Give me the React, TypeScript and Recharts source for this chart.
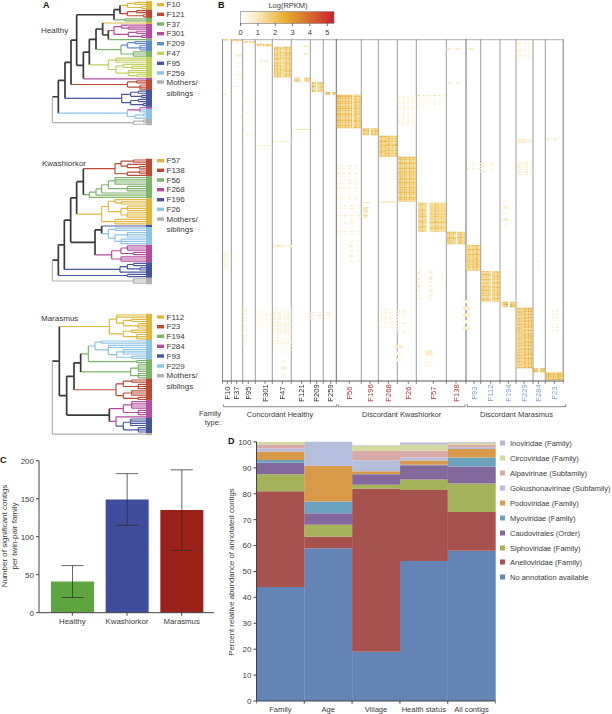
import React from "react";
import {
  BarChart, Bar, Cell, XAxis, YAxis, ErrorBar, LineChart, Line,
  ScatterChart, Scatter, ReferenceLine,
} from "recharts";

const FONT = "'Liberation Sans', Arial, sans-serif";
const INK = "#3a3a3a";

/* ---------- Panel C ---------- */
const groupNames = ["Healthy", "Kwashiorkor", "Marasmus"];
const groupMeans = [41, 149, 135];
const groupErrLow = [21, 34, 53];
const groupErrHigh = [21, 34, 53];
const groupColors = ["#5CA53F", "#3F4E9C", "#9A2118"];

/* ---------- Panel D ---------- */
const analysisNames = ["Family", "Age", "Village", "Health status", "All contigs"];
const noAnnotation = [44, 59, 19, 54, 58];
const anelloviridae = [37, 4.5, 63, 27.5, 15];
const siphoviridae = [6.5, 4.5, 1.5, 4, 11];
const caudovirales = [4.5, 4.5, 4, 5.5, 6.5];
const myoviridae = [1, 4.5, 0.1, 0.2, 3.5];
const podoviridae = [3.3, 13.7, 1.1, 1.6, 3.3];
const gokushonavirinae = [1.2, 9.3, 4.1, 1.2, 0.7];
const alpavirinae = [1.5, 0, 3.7, 2.7, 1];
const circoviridae = [1, 0, 2, 2.3, 0.7];
const inoviridae = [0, 0.1, 0.2, 0.8, 0.3];
const stackSeries: [string, number[], string][] = [
  ["No annotation available", noAnnotation, "#6484B6"],
  ["Anelloviridae (Family)", anelloviridae, "#A8524F"],
  ["Siphoviridae (Family)", siphoviridae, "#A4B35A"],
  ["Caudovirales (Order)", caudovirales, "#85689B"],
  ["Myoviridae (Family)", myoviridae, "#6BA3BF"],
  ["Podoviridae (Family)", podoviridae, "#D89A48"],
  ["Gokushonavirinae (Subfamily)", gokushonavirinae, "#B4BEDD"],
  ["Alpavirinae (Subfamily)", alpavirinae, "#D9A9A7"],
  ["Circoviridae (Family)", circoviridae, "#D2D99F"],
  ["Inoviridae (Family)", inoviridae, "#B9B4D2"],
];

/* ---------- Panel A ---------- */
const treeColors: Record<string, string> = {
  g: "#E0B73C", r: "#BE4A36", n: "#7DB468", m: "#B64C9E", b: "#5F8CC6",
  y: "#C2D05E", p: "#47559F", s: "#8EC3E8", a: "#B0B0B0", k: "#3A3A3A",
};
type Node = string | (string | number | Node)[];
const healthyTree: Node = [37, "a",
  [55, "k",
    [75, "k",
      [93, "k",
        [110, "k",
          [222, "k",
            [240, "k",
              [262, "g", [285, "g", "g", "g"], [305, "g", "g", "g"]],
              [262, "r", [290, "r", "r", "r"], [310, "r", "r", "r"]]],
            [255, "n", "n", "n"]],
          [130, "k",
            [148, "k",
              [168, "k",
                [188, "k", "g",
                  [205, "k",
                    [222, "m", [245, "m", "m", [265, "m", "m", "m"]], [265, "m", [290, "m", "m", "m"], [305, "m", "m", "m"]]],
                    "n"]],
                [243, "n",
                  [262, "b", [285, "b", "b", "b"], [300, "b", "b", "b", "b"]],
                  [280, "n", "n", "n", "n"]]],
              [205, "y", [228, "y", "y", "y", "y"],
                [228, "y", [250, "y", "y", [275, "y", "y", "y"]], [265, "y", "y", "y", [290, "y", "y", "y"]]]]],
            "m"]],
        [262, "r", [290, "r", "r", "r"], [300, "r", "r", "r", "r"]]],
      [245, "p", [272, "p", [295, "p", "p", "p"], [305, "p", "p", "p"]], [272, "p", [295, "p", "p", "p"], [310, "p", "p", "p"]]]],
    [262, "s", [300, "m", "m", "s", "s"], [285, "s", [310, "s", "s", "s"], [310, "s", "s"]]]],
  [280, "a", [310, "a", "a", "a"], [300, "a", "a"]],
];
const kwashTree: Node = [37, "a",
  [55, "k",
    [73, "k",
      [92, "k",
        [110, "k",
          [130, "k",
            [225, "r", [243, "r", [280, "r", "r", "r"], [262, "r", "r", [298, "r", "r", "r"]]], [262, "r", [298, "r", "r", "r"], "r"]],
            [148, "n", [168, "n", [185, "n", [205, "n", [225, "n", "n", "n", "n", "n"], [262, "n", "n", "n", "n"]], "n"], "n"], "n"]],
          [185, "g",
            [205, "g", [225, "g", "g", [243, "g", "g", "g"]], [243, "g", [262, "g", "g", "g", "g"], [262, "g", "g", "g", "g"]]],
            [225, "g", "g", "g", "g"]]],
        [165, "k",
          [185, "k", "p",
            [205, "s", [225, "s", "s", "s"], [225, "s", [262, "s", "s", "s", "s"], [243, "s", "s", "s", "s"]]]],
          [215, "m", [243, "m", [262, "m", "m", "m", "m"], [280, "m", "m", "m"]], [243, "m", "m", "m", "m"]]]],
      [240, "p", [262, "p", [280, "p", "p", "p"], [300, "p", "p", "p"]], "p"]],
    [262, "p", "p", "p"]],
  [280, "a", "a", "a", "a"],
];
const marasmusTree: Node = [37, "a",
  [58, "k",
    [208, "g",
      [230, "g", "g", "g", [250, "g", [275, "g", "g", "g"], [295, "g", "g", "g", "g"]]],
      [250, "g", [275, "g", "g", "g"], [290, "g", "g", "g", "g"]]],
    [80, "k",
      [102, "k",
        [122, "k",
          [145, "n",
            [165, "s", [185, "s", "s", "s"], [205, "s", "s", "s", [230, "s", [250, "s", "s", "s", "s"], [275, "s", "s", "s"]]]],
            [290, "n", "n", "n"]],
          [272, "n", [295, "n", "n", "n", "n", "n"], [295, "n", "n", "n", "n"]]],
        [228, "r", [250, "r", [275, "r", "r", "r"], [295, "r", "r", "r", "r"]], [250, "r", [275, "r", "r", "r", "r"], [295, "r", "r", "r"]]]],
      [208, "k",
        [250, "m", [275, "m", "m", "m", "m", "m"], [295, "m", "m", "m", "m"]],
        [228, "m", "m", [250, "p", [272, "p", "p", "p", "p", "p"], [295, "p", "p", "p", "p"]]]]]],
  "a",
];
const legendHealthy: [string, string][] = [["F10", "g"], ["F121", "r"], ["F37", "n"], ["F301", "m"], ["F209", "b"], ["F47", "y"], ["F95", "p"], ["F259", "s"], ["Mothers/", "a"]];
const legendKwash: [string, string][] = [["F57", "g"], ["F138", "r"], ["F56", "n"], ["F268", "m"], ["F196", "p"], ["F26", "s"], ["Mothers/", "a"]];
const legendMarasmus: [string, string][] = [["F112", "g"], ["F23", "r"], ["F194", "n"], ["F284", "m"], ["F93", "p"], ["F229", "s"], ["Mothers/", "a"]];

const LEAF_END = 336;
const LEAF_START = 318;

function collect(tree: Node, y0: number, step: number) {
  const groups: Record<string, any[]> = {};
  const leaves: Record<string, any[]> = {};
  let next = y0;
  const seg = (c: string, a: number, b: number, p: number, q: number) => {
    (groups[c] = groups[c] || []).push({ x: a, y: b }, { x: p, y: q }, { x: null, y: null });
  };
  const walk = (n: any): number => {
    const [x, c, ...kids] = n;
    const ys: number[] = kids.map((k: any) => {
      if (typeof k === "string") {
        const y = next;
        next += step;
        seg(k, x, y, LEAF_END, y);
        (leaves[k] = leaves[k] || []).push({ x: LEAF_START, y }, { x: LEAF_END, y }, { x: null, y: null });
        return y;
      }
      const y = walk(k);
      seg(k[1], x, y, k[0], y);
      return y;
    });
    seg(c, x, ys[0], x, ys[ys.length - 1]);
    return (ys[0] + ys[ys.length - 1]) / 2;
  };
  walk(tree);
  return { groups, leaves };
}

function Tree({ tree, top, h, y0, step }: { tree: Node; top: number; h: number; y0: number; step: number }) {
  const { groups, leaves } = collect(tree, y0, step);
  return (
    <div style={{ position: "absolute", left: 40, top, width: 135, height: h }}>
      <LineChart width={135} height={h} margin={{ top: 0, right: 0, bottom: 0, left: 0 }}>
        <XAxis hide type="number" dataKey="x" domain={[0, 405]} allowDataOverflow />
        <YAxis hide type="number" domain={[0, h * 3]} reversed allowDataOverflow />
        {Object.keys(leaves).map((c) => (
          <Line key={"l" + c} data={leaves[c]} dataKey="y" stroke={treeColors[c]} strokeWidth={(step / 3) + 0.1} dot={false} activeDot={false} isAnimationActive={false} />
        ))}
        {Object.keys(groups).map((c) => (
          <Line key={c} data={groups[c]} dataKey="y" stroke={treeColors[c]} strokeWidth={c === "k" ? 1.7 : 1.2} dot={false} activeDot={false} isAnimationActive={false} />
        ))}
      </LineChart>
    </div>
  );
}

/* ---------- Panel B ---------- */
const separators = [231.3, 242.7, 255.3, 272.3, 291.3, 310.3, 323.3, 361.3, 378.3, 397.3, 416.3, 446.3, 480.7, 500, 516, 533, 545.3];
const darkSeparators = [222.3, 336.3, 466];
const familyLabels = ["F10", "F37", "F95", "F301", "F47", "F121", "F209", "F259", "F56", "F196", "F268", "F26", "F57", "F138", "F93", "F112", "F194", "F229", "F284", "F23"];
const familyPositions = [227.3, 236.7, 248.3, 265, 282.3, 301.7, 316.7, 330.7, 349.3, 370, 388.3, 408.3, 433.3, 456, 474, 490.7, 508.3, 524, 538.3, 554.3];
const familyColors = ["#333", "#333", "#333", "#333", "#333", "#333", "#333", "#333", "#A33A34", "#A33A34", "#A33A34", "#A33A34", "#A33A34", "#A33A34", "#7F9FCF", "#7F9FCF", "#7F9FCF", "#7F9FCF", "#7F9FCF", "#7F9FCF"];
const heatRamp = ["#FFFFFF", "#FEF8E8", "#FBEDC8", "#F8E1A6", "#F5D584", "#F1C866", "#ECB94A", "#E6A935", "#DC8F2E", "#C9602A"];

// x0, x1, y0, y1, column intensities, row intensities
type Block = [number, number, number, number, string, string];
const strongBlocks: Block[] = [
  [222.7, 231.3, 39, 40.2, "6853", "7"],
  [232, 241.7, 39.7, 41.3, "75869", "7"],
  [244, 255, 41.3, 43, "680759", "8"],
  [256.7, 264.5, 43.7, 46.3, "78868", "86"],
  [265.5, 271.7, 43.7, 46.3, "7867", "79"],
  [274, 282.7, 46.7, 77.3, "979786", "8969786979867968979789869"],
  [283.3, 291.3, 46.7, 77.3, "879697", "9786896979678968797896978"],
  [294, 300, 77.7, 81.7, "7986", "8779"],
  [304, 310, 77.7, 81.7, "6988", "9778"],
  [311.7, 316, 82, 92, "987", "98697689"],
  [317.3, 323.3, 82, 92, "8697", "89768697"],
  [325.7, 330, 92, 94.7, "989", "99"],
  [332.7, 336.3, 92, 94.7, "98", "99"],
  [336.7, 352.3, 94.7, 128.3, "9998797969", "9989797969897968979689797968"],
  [353.3, 360.7, 94.7, 128.3, "79869", "7968979689796897968978969789"],
  [362.3, 369, 128.3, 135.3, "8979", "89687"],
  [370.7, 378, 128.3, 135.3, "9798", "87968"],
  [379.3, 386, 135.7, 156.7, "8979", "9768978697689769"],
  [386, 397, 135.7, 156.7, "797869", "8697869978697869"],
  [398.3, 416, 156.7, 201.7, "8979869787", "979689787969878968979787969897869797"],
  [418.3, 426.5, 202.7, 231.7, "87967", "878687968979687968798679"],
  [429.5, 446, 202.7, 231.7, "6869786867", "768796878968796897687968"],
  [446.7, 456, 231.7, 244.3, "89786", "9786897968"],
  [457, 465, 231.7, 244.3, "78967", "8697968978"],
  [466, 480, 245, 270.7, "7868796", "78697869786897698768"],
  [481, 491, 271, 301.7, "7969786", "86978697686978969786897"],
  [492, 500, 271, 301.7, "78698", "79689786978697869786978"],
  [501.7, 508, 301.7, 307.3, "789", "897"],
  [510, 516, 301.7, 307.3, "978", "789"],
  [516.7, 523, 307.7, 368.3, "7978", "96897869786978969786978697869786978697869"],
  [523.5, 532.3, 307.7, 368.3, "987989", "98979697897898697898978979689789789869789"],
  [532.7, 538, 368.3, 372.3, "98", "989"],
  [540, 545, 368.3, 372.3, "89", "978"],
  [545.7, 563.3, 372.3, 380, "8987978988", "89979"],
];
const weakZones: Block[] = [
  [243, 253, 95, 138, "4060504", "3020400301040203004020103050"],
  [398, 416, 96, 127, "53605043", "6040605040605030604050605030"],
  [418, 445, 95, 110, "706050060504", "8030205040030"],
  [418, 420, 270.7, 300, "7", "5403504060350405"],
  [429.3, 432.7, 270.7, 300, "65", "5405604050640504"],
  [441.7, 443.3, 270.7, 300, "5", "4050403050403040"],
  [273, 291.7, 308, 355, "535605463", "3040506070605060705060504030405060402030201"],
  [256.7, 271.7, 308, 332, "40530506", "40302050306040504030201"],
  [240, 247, 308, 345, "060507", "5060407060305040206050403"],
  [380, 393, 308, 328, "506050", "4060503070605040305"],
  [516.7, 531.7, 42, 58, "56405060", "605040605030605"],
  [516.7, 531.7, 162, 175, "56505604", "60706050706"],
  [516.7, 531.7, 139, 143, "556605", "656"],
  [337, 357, 165, 201, "5040605", "504006030040500603004050"],
  [337, 360, 205, 235, "4050604", "504003060040500300604"],
  [363, 368, 207, 218, "676", "767086"],
  [273, 292, 245, 247.5, "56505", "76"],
  [223, 228, 252, 268, "65", "40506050405060"],
  [397, 415, 310, 333, "505040", "505030405030405"],
  [390, 393, 313, 330, "4", "40504050"],
  [552, 558, 310, 333, "505", "50605030405060"],
  [537, 540, 243, 273, "4", "40305040304050"],
  [446.7, 465, 48, 52, "4050", "60"],
  [446.7, 465, 82, 85, "5040", "60"],
  [467, 480, 48, 50, "50", "6"],
  [467, 480, 162, 173, "40504", "5040600"],
  [480, 500, 163, 175, "5040", "605040500"],
  [547, 560, 138, 142, "4050", "60"],
  [310, 330, 312, 322, "50405", "5060400"],
  [295, 310, 129, 130, "7", "7"],
  [256, 271.7, 145.3, 146.2, "6", "6"],
  [234, 241.7, 86, 87, "6", "6"],
  [273, 291.7, 141.2, 142.2, "5", "7"],
  [362, 370, 202.2, 203.2, "6", "7"],
  [379, 397, 201.5, 202.5, "6", "7"],
  [223, 227, 94, 95, "6", "7"],
  [230, 242, 52, 80, "04", "060040500405"],
  [257, 268, 60, 70, "0505", "5004"],
  [300, 308, 45, 55, "05", "5005"],
  [346, 360, 240, 262, "0504", "405040504"],
  [503, 513, 200, 230, "50", "4050405040"],
  [455, 470, 300, 330, "05", "405050405"],
  [425, 440, 350, 372, "50", "5040"],
  [276, 291, 360, 376, "050", "40504"],
  [395, 410, 345, 365, "50", "504040"],
];

function blockCells(blocks: Block[], divisor: number) {
  const out: any[] = [];
  blocks.forEach(([x0, x1, y0, y1, cols, rows]) => {
    const w = (x1 - x0) / cols.length;
    const h = (y1 - y0) / rows.length;
    rows.split("").forEach((rv, j) => {
      cols.split("").forEach((cv, i) => {
        const level = Math.round((+cv * +rv) / divisor);
        if (level < 1) return;
        out.push({ x: x0 + (i + 0.5) * w, y: y0 + (j + 0.5) * h, w, h, level: Math.min(level, 9) });
      });
    });
  });
  return out;
}
const heatCells = [...blockCells(strongBlocks, 12), ...blockCells(weakZones, 16)];
const CellShape = (p: any) => {
  const d = p.payload;
  return <rect x={p.cx - d.w / 2} y={p.cy - d.h / 2} width={d.w} height={d.h} fill={heatRamp[d.level]} />;
};
const heatTicks = [222.3, 231.3, 242.7, 255.3, 272.3, 291.3, 310.3, 323.3, 336.3, 361.3, 378.3, 397.3, 416.3, 446.3, 466, 480.7, 500, 516, 533, 545.3, 564, ...familyPositions];
const FamilyTick = (p: any) => {
  const i = familyPositions.indexOf(p.payload.value);
  return (
    <g>
      <line x1={p.x} x2={p.x} y1={p.y} y2={p.y + 3} stroke="#555" strokeWidth={0.7} />
      {i >= 0 && (
        <text x={p.x} y={p.y + 12} fill={familyColors[i]} fontSize={7.6} fontFamily={FONT} textAnchor="middle" dominantBaseline="central" transform={`rotate(-90 ${p.x} ${p.y + 12})`}>
          {familyLabels[i]}
        </text>
      )}
    </g>
  );
};

function Heatmap() {
  return (
    <div style={{ position: "absolute", left: 222, top: 39, width: 342, height: 366, filter: "blur(0.35px)" }}>
      <ScatterChart width={342} height={366} margin={{ top: 0, right: 0, bottom: 0, left: 0 }} style={{ overflow: "visible" }}>
        <XAxis type="number" dataKey="x" domain={[222, 564]} allowDataOverflow ticks={heatTicks} interval={0} height={24} tickLine={false} tickSize={0} tickMargin={0} tick={<FamilyTick />} stroke="#555" />
        <YAxis hide type="number" dataKey="y" domain={[39, 381]} reversed allowDataOverflow />
        <Scatter data={heatCells} shape={<CellShape />} isAnimationActive={false} />
        <ReferenceLine y={39.4} stroke="#bdbdbd" strokeWidth={1.5} />
        <ReferenceLine x={563.5} stroke="#a8a8a8" strokeWidth={2} />
        {separators.map((s) => <ReferenceLine key={s} x={s} stroke="#9c9c9c" strokeWidth={1} />)}
        {darkSeparators.map((s) => <ReferenceLine key={s} x={s} stroke="#6b6b6b" strokeWidth={1} />)}
      </ScatterChart>
    </div>
  );
}

/* ---------- chart tables ---------- */
const barRows = groupNames.map((name, i) => ({ name, value: groupMeans[i], err: [groupErrLow[i], groupErrHigh[i]] }));
const stackRows = analysisNames.map((name, i) => {
  const r: any = { name };
  stackSeries.forEach(([n, v]) => { r[n] = v[i]; });
  return r;
});
const BAND = 47.7;
const BoundaryTick = (p: any) => (
  <g>
    <line x1={p.x - BAND / 2} x2={p.x - BAND / 2} y1={p.y} y2={p.y + 2.5} stroke="#444" strokeWidth={0.7} />
    <line x1={p.x + BAND / 2} x2={p.x + BAND / 2} y1={p.y} y2={p.y + 2.5} stroke="#444" strokeWidth={0.7} />
    <text x={p.x} y={p.y + 8} fill={INK} fontSize={7.6} fontFamily={FONT} textAnchor="middle" dominantBaseline="central">{p.payload.value}</text>
  </g>
);

const T = (p: any) => <text fontFamily={FONT} fill={INK} fontSize={7.5} dominantBaseline="central" {...p} />;
const Bold = (p: any) => <text fontFamily={FONT} fill="#111" fontSize={9} fontWeight="bold" dominantBaseline="central" {...p} />;

const legendYs = [443, 458, 473, 488, 503, 518, 533, 548, 562, 577];
const barTicks = [0, 50, 100, 150, 200];
const pctTicks = [0, 10, 20, 30, 40, 50, 60, 70, 80, 90, 100];
const colorTicks = [0, 1, 2, 3, 4, 5];
const bracketSpans: [number, number, string][] = [[223.3, 336.7, "Concordant Healthy"], [338.3, 465, "Discordant Kwashiorkor"], [467.3, 565.7, "Discordant Marasmus"]];

function Annotations() {
  const tree = (items: [string, string][], ys: number[], sib: number) => (
    <g>
      {items.map(([n, c], i) => (
        <g key={n}>
          <rect x={157} y={ys[i] - 1.7} width={7} height={3.4} fill={treeColors[c]} />
          <T x={166.5} y={ys[i]} fontSize={8}>{n}</T>
        </g>
      ))}
      <T x={166.5} y={sib} fontSize={8}>siblings</T>
    </g>
  );
  return (
    <svg width={612} height={714} style={{ position: "absolute", left: 0, top: 0, pointerEvents: "none" }}>
      <defs>
        <linearGradient id="rpkm" x1="0" x2="1" y1="0" y2="0">
          <stop offset="0" stopColor="#FFFFFF" />
          <stop offset="0.2" stopColor="#F8E6B8" />
          <stop offset="0.48" stopColor="#E9AE2C" />
          <stop offset="0.7" stopColor="#D9742E" />
          <stop offset="1" stopColor="#C9212E" />
        </linearGradient>
      </defs>
      <Bold x={43} y={5}>A</Bold>
      <Bold x={218} y={5}>B</Bold>
      <Bold x={0} y={460}>C</Bold>
      <Bold x={228} y={441}>D</Bold>
      <T x={41} y={30} fontSize={8}>Healthy</T>
      <T x={42} y={163} fontSize={8}>Kwashiorkor</T>
      <T x={41} y={318} fontSize={8}>Marasmus</T>
      {tree(legendHealthy, [4.7, 14.3, 24, 33.7, 43.7, 53.3, 63.3, 73, 82], 93)}
      {tree(legendKwash, [160.7, 170.3, 180, 189.7, 199.7, 209.3, 219], 229.5)}
      {tree(legendMarasmus, [317, 326.7, 336.3, 346.3, 356, 366, 375.7], 386)}

      <T x={288} y={5} textAnchor="middle">Log(RPKM)</T>
      <rect x={240.5} y={11.7} width={93.5} height={11.6} fill="url(#rpkm)" stroke="#777" strokeWidth={0.6} />
      {colorTicks.map((t) => (
        <g key={t}>
          <line x1={240.5 + t * 17.35} x2={240.5 + t * 17.35} y1={23.3} y2={26} stroke="#333" strokeWidth={0.7} />
          <T x={240.5 + t * 17.35} y={32} textAnchor="middle">{t}</T>
        </g>
      ))}
      <T x={221} y={413} textAnchor="end">Family</T>
      <T x={221} y={422} textAnchor="end">type:</T>
      {bracketSpans.map(([a, b, n]) => (
        <g key={n}>
          <path d={`M${a} 404.3V406.7H${b}V404.3`} fill="none" stroke="#555" strokeWidth={0.7} />
          <T x={(a + b) / 2} y={414} textAnchor="middle">{n}</T>
        </g>
      ))}

      <T transform="rotate(-90 4 536)" x={4} y={536} textAnchor="middle" fontSize={8}>Number of significant contigs</T>
      <T transform="rotate(-90 14 536)" x={14} y={536} textAnchor="middle" fontSize={8}>per twin-pair family</T>
      <T transform="rotate(-90 231 572)" x={231} y={572} textAnchor="middle" fontSize={7.8}>Percent relative abundance of annotated contigs</T>

      {stackSeries.slice().reverse().map(([n, , c], i) => (
        <g key={n}>
          <rect x={500} y={legendYs[i] - 2.5} width={5} height={5} fill={c} />
          <T x={510} y={legendYs[i]}>{n}</T>
        </g>
      ))}
    </svg>
  );
}

export default function App() {
  return (
    <div style={{ position: "absolute", left: 0, top: 0, width: 612, height: 714, overflow: "hidden", background: "#fff" }}>
      <Tree tree={healthyTree} top={0} h={130} y0={7} step={6.2} />
      <Tree tree={kwashTree} top={145} h={145} y0={45} step={6.6} />
      <Tree tree={marasmusTree} top={295} h={145} y0={60} step={6.5} />
      <Heatmap />
      <div style={{ position: "absolute", left: 0, top: 450, width: 230, height: 190 }}>
        <BarChart width={230} height={190} data={barRows} margin={{ top: 10.7, right: 16, bottom: 0, left: 0 }}>
          <XAxis dataKey="name" height={27.3} interval={0} padding={{ left: 6, right: 5 }} tick={{ fontSize: 7.8, fill: INK, fontFamily: FONT }} tickSize={3} tickMargin={3} stroke="#444" />
          <YAxis width={39} domain={[0, 200]} ticks={barTicks} tick={{ fontSize: 8, fill: INK, fontFamily: FONT }} tickSize={3} tickMargin={2} stroke="#444" />
          <Bar dataKey="value" barSize={43} isAnimationActive={false}>
            {barRows.map((r, i) => <Cell key={r.name} fill={groupColors[i]} />)}
            <ErrorBar dataKey="err" width={11} stroke="#2b2b2b" strokeOpacity={0.8} strokeWidth={0.9} isAnimationActive={false} />
          </Bar>
        </BarChart>
      </div>
      <div style={{ position: "absolute", left: 225, top: 430, width: 280, height: 284 }}>
        <BarChart width={280} height={284} data={stackRows} barCategoryGap={0} margin={{ top: 11.7, right: 8.5, bottom: 0, left: 0 }} style={{ overflow: "visible" }}>
          <XAxis dataKey="name" height={13} interval={0} tickLine={false} tickSize={0} tickMargin={0} tick={<BoundaryTick />} stroke="#444" />
          <YAxis width={31.5} domain={[0, 100]} ticks={pctTicks} interval={0} tick={{ fontSize: 8, fill: INK, fontFamily: FONT }} tickSize={3} tickMargin={2} stroke="#444" />
          <YAxis yAxisId="right" orientation="right" width={1} domain={[0, 100]} ticks={pctTicks} interval={0} tick={false} axisLine={false} tickSize={2} stroke="#555" />
          {stackSeries.map(([n, , c]) => <Bar key={n} dataKey={n} stackId="a" fill={c} isAnimationActive={false} />)}
        </BarChart>
      </div>
      <Annotations />
    </div>
  );
}
